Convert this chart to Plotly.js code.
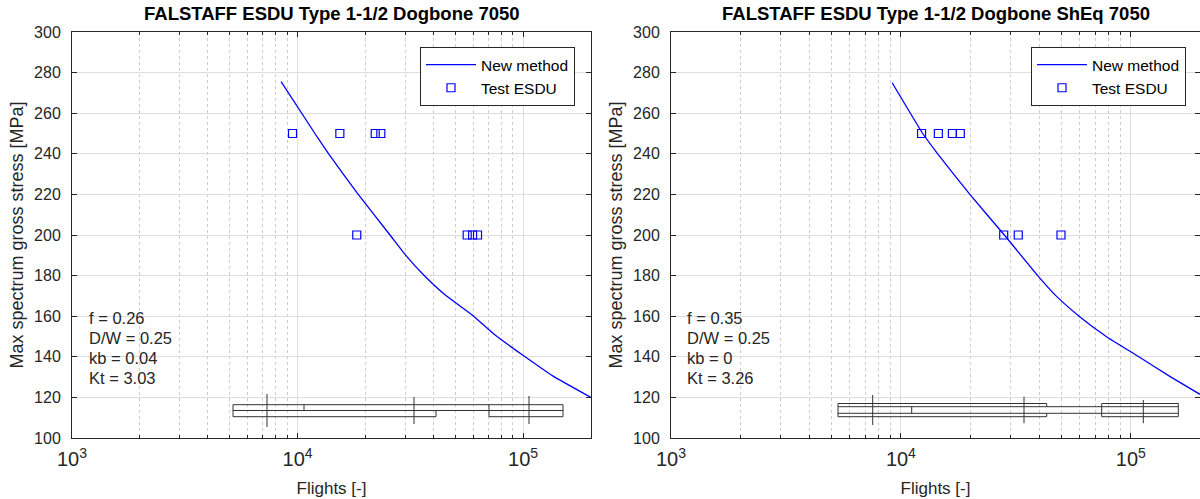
<!DOCTYPE html>
<html>
<head>
<meta charset="utf-8">
<script src="https://cdn.plot.ly/plotly-3.0.1.min.js"></script>
<style>html,body{margin:0;padding:0;background:#fff;}#chart{width:1200px;height:499px;}</style>
</head>
<body>
<div id="chart"></div>
<script>
// ---------- data ----------
const titleLeft = 'FALSTAFF ESDU Type 1-1/2 Dogbone 7050';
const titleRight = 'FALSTAFF ESDU Type 1-1/2 Dogbone ShEq 7050';

const methodLeftX = [8453, 11940, 13740, 18365, 25704, 30200, 35892, 45186, 59429, 75162, 100925, 135831, 200000];
const methodLeftY = [275.5, 250, 240, 220.7, 200, 190, 180.8, 170.4, 160.6, 150.7, 140.4, 130.5, 120];
const testLeftX = [9500, 15400, 22100, 23400, 18300, 56500, 59700, 62800];
const testLeftY = [250, 250, 250, 250, 200, 200, 200, 200];

const methodRightX = [9162, 12445, 14454, 19953, 28184, 39355, 47315, 59566, 78163, 108393, 149624, 200000];
const methodRightY = [275, 250, 240, 220, 200, 180, 170, 160, 150, 140, 130, 121.5];
const testRightX = [12300, 14550, 16750, 18130, 28000, 32400, 49700];
const testRightY = [250, 250, 250, 250, 200, 200, 200];

const paramsLeft = ['f = 0.26', 'D/W = 0.25', 'kb = 0.04', 'Kt = 3.03'];
const paramsRight = ['f = 0.35', 'D/W = 0.25', 'kb = 0', 'Kt = 3.26'];

const seriesNames = ['New method', 'Test ESDU'];
const xTitle = 'Flights [-]';
const yTitle = 'Max spectrum gross stress [MPa]';

// ---------- layout geometry (pixels) ----------
const W = 1200, H = 499;
const mT = 32, mB = 61;
const plotH = H - mT - mB;
const leftDom = [72, 591], rightDom = [671, 1200];
const px2x = p => p / W;
const py2y = p => (H - mB - p) / plotH;

const FONT = 'Liberation Sans, Arial, sans-serif';
const BLUE = '#0000ff';
const AX = '#262626';

const lineStyle = {color: BLUE, width: 1.3, shape: 'spline', smoothing: 0.4};
const markerStyle = {symbol: 'square-open', size: 8, color: BLUE, line: {width: 1.2, color: BLUE}};

const traces = [
  {x: methodLeftX, y: methodLeftY, name: seriesNames[0], mode: 'lines', line: lineStyle, xaxis: 'x', yaxis: 'y', legend: 'legend'},
  {x: testLeftX, y: testLeftY, name: seriesNames[1], mode: 'markers', marker: markerStyle, xaxis: 'x', yaxis: 'y', legend: 'legend'},
  {x: methodRightX, y: methodRightY, name: seriesNames[0], mode: 'lines', line: lineStyle, xaxis: 'x2', yaxis: 'y2', legend: 'legend2'},
  {x: testRightX, y: testRightY, name: seriesNames[1], mode: 'markers', marker: markerStyle, xaxis: 'x2', yaxis: 'y2', legend: 'legend2'}
];

function xAxis(dom, anchor) {
  return {
    type: 'log', domain: [px2x(dom[0]), px2x(dom[1])], anchor: anchor,
    range: [3, Math.log10(200000)], dtick: 1, exponentformat: 'power',
    showline: true, linecolor: AX, linewidth: 1, mirror: 'ticks',
    ticks: 'inside', ticklen: 5, tickcolor: AX,
    showgrid: true, gridcolor: '#dedede', gridwidth: 1,
    minor: {dtick: 'D1', ticks: 'inside', ticklen: 3, tickcolor: AX, showgrid: true, gridcolor: '#cccccc', griddash: 'dot', gridwidth: 1},
    tickfont: {family: FONT, size: 16, color: AX},
    ticklabelstandoff: 4,
    title: {text: xTitle, font: {family: FONT, size: 17, color: AX}, standoff: 12},
    zeroline: false, automargin: false, fixedrange: true
  };
}
function yAxis(anchor) {
  return {
    domain: [0, 1], anchor: anchor, range: [100, 300], dtick: 20,
    showline: true, linecolor: AX, linewidth: 1, mirror: 'ticks',
    ticks: 'inside', ticklen: 5, tickcolor: AX,
    showgrid: true, gridcolor: '#dedede', gridwidth: 1,
    tickfont: {family: FONT, size: 16, color: AX},
    ticklabelstandoff: 7,
    title: {text: yTitle, font: {family: FONT, size: 18, color: AX}, standoff: 5},
    zeroline: false, automargin: false, fixedrange: true
  };
}

// ---------- specimen sketch (illustration, pixel positions) ----------
const sketchLeft = [
  [233,404.7,563,404.7],[233,410.5,563,410.5],[233,416.7,436,416.7],[489,416.7,563,416.7],
  [233,404.7,233,416.7],[304,404.7,304,410.5],[436,410.5,436,416.7],[489,404.7,489,416.7],[563,404.7,563,416.7],
  [267,394,267,427],[414,397,414,424],[529,396,529,424]
];
const sketchRight = [
  [838,403.5,1046.7,403.5],[1101.7,403.5,1178.3,403.5],
  [838,406.7,1178.3,406.7],[838,413.3,1178.3,413.3],
  [838,416.7,1046.7,416.7],[1101.7,416.7,1178.3,416.7],
  [838,403.5,838,416.7],[1046.7,403.5,1046.7,406.7],[1046.7,413.3,1046.7,416.7],
  [1101.7,403.5,1101.7,416.7],[1178.3,403.5,1178.3,416.7],[911.7,406.7,911.7,413.3],
  [872.7,395,872.7,425],[1024,396.7,1024,423.3],[1143.3,400,1143.3,423.3]
];
const shapes = [];
[[226,391,587,430],[830,391,1198,430]].forEach(r => shapes.push({
  type: 'rect', xref: 'paper', yref: 'paper', layer: 'between',
  x0: px2x(r[0]), x1: px2x(r[2]), y0: py2y(r[3]), y1: py2y(r[1]),
  fillcolor: '#ffffff', line: {width: 0}
}));
sketchLeft.concat(sketchRight).forEach(s => shapes.push({
  type: 'line', xref: 'paper', yref: 'paper', layer: 'above',
  x0: px2x(s[0]), y0: py2y(s[1]), x1: px2x(s[2]), y1: py2y(s[3]),
  line: {color: '#333333', width: 1}
}));

// ---------- annotations ----------
const annotations = [];
annotations.push({text: '<b>' + titleLeft + '</b>', xref: 'paper', yref: 'paper', x: px2x((leftDom[0]+leftDom[1])/2), y: py2y(14), xanchor: 'center', yanchor: 'middle', showarrow: false, font: {family: FONT, size: 18.5, color: '#000'}});
annotations.push({text: '<b>' + titleRight + '</b>', xref: 'paper', yref: 'paper', x: px2x((rightDom[0]+rightDom[1])/2), y: py2y(14), xanchor: 'center', yanchor: 'middle', showarrow: false, font: {family: FONT, size: 18.5, color: '#000'}});
paramsLeft.forEach((t, i) => annotations.push({text: t, xref: 'paper', yref: 'paper', x: px2x(87), y: py2y(318 + 20*i), xanchor: 'left', yanchor: 'middle', showarrow: false, font: {family: FONT, size: 16.5, color: AX}}));
paramsRight.forEach((t, i) => annotations.push({text: t, xref: 'paper', yref: 'paper', x: px2x(685), y: py2y(318 + 20*i), xanchor: 'left', yanchor: 'middle', showarrow: false, font: {family: FONT, size: 16.5, color: AX}}));

function legendBox(xr) {
  return {x: px2x(xr), y: py2y(47), xanchor: 'right', yanchor: 'top', xref: 'paper', yref: 'paper',
    bgcolor: '#ffffff', bordercolor: AX, borderwidth: 1,
    font: {family: FONT, size: 15.5, color: '#000'}, itemwidth: 50, tracegroupgap: 0};
}

const layout = {
  width: W, height: H,
  margin: {l: 0, r: 0, t: mT, b: mB},
  paper_bgcolor: '#ffffff', plot_bgcolor: '#ffffff',
  showlegend: true,
  xaxis: xAxis(leftDom, 'y'), yaxis: yAxis('x'),
  xaxis2: xAxis(rightDom, 'y2'), yaxis2: yAxis('x2'),
  legend: legendBox(575), legend2: legendBox(1186),
  shapes: shapes, annotations: annotations
};

Plotly.newPlot('chart', traces, layout, {displayModeBar: false, staticPlot: true});
</script>
</body>
</html>
